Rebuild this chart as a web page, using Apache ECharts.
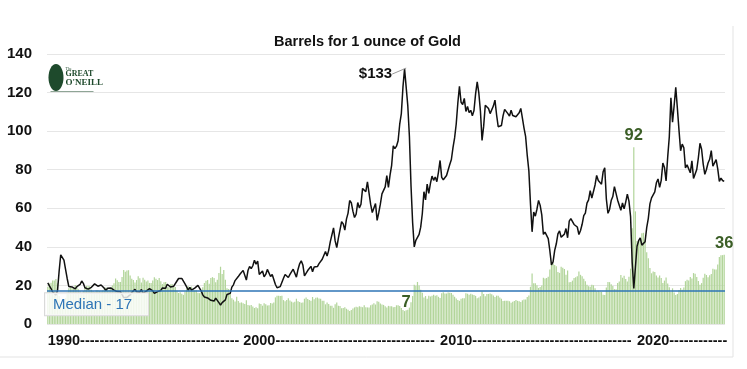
<!DOCTYPE html>
<html>
<head>
<meta charset="utf-8">
<script src="https://cdn.jsdelivr.net/npm/echarts@6/dist/echarts.min.js"></script>
<style>
html,body{margin:0;padding:0;background:#fff;}
#c{width:747px;height:369px;}
</style>
</head>
<body>
<div id="c"></div>
<script>
// Monthly categories Jan 1990 - Dec 2024
const startYear = 1990, endYear = 2024;
const months = [];
for (let y = startYear; y <= endYear; y++) {
  for (let m = 1; m <= 12; m++) months.push(y + '-' + (m < 10 ? '0' + m : m));
}

// Oil price, $/barrel (black line), one row per year
const oilPrice = [
  21.3,19.8,18.4,16.6,16.4,15.1,17.2,27.2,35.9,36.0,33.1,28.3,
  23.6,19.5,19.1,19.2,19.2,18.2,19.4,19.8,20.5,22.3,21.1,18.8,
  18.0,18.1,17.6,19.0,19.7,20.8,20.1,19.6,20.2,20.2,19.2,18.5,
  17.4,18.5,18.7,18.7,18.5,17.6,16.6,16.8,16.3,16.7,15.3,13.7,
  14.3,13.8,13.8,15.1,16.3,16.9,18.0,16.7,15.9,16.5,17.9,15.8,
  16.6,17.1,16.9,18.3,18.1,17.2,15.9,16.4,16.8,16.1,17.4,18.7,
  18.5,18.6,20.6,20.7,19.2,18.5,19.6,20.2,22.3,23.6,22.9,23.6,
  23.6,20.8,19.2,17.6,19.0,17.6,18.5,18.6,18.5,20.0,19.2,17.2,
  15.1,14.0,13.2,13.5,14.3,12.3,12.1,11.9,13.4,13.0,11.1,9.8,
  11.1,10.3,12.5,15.3,15.2,15.9,19.1,20.3,22.5,22.1,24.6,25.8,
  25.5,27.8,27.5,22.8,27.7,29.8,28.7,30.2,33.1,31.0,32.6,25.7,
  25.6,27.5,24.5,25.7,28.3,27.9,24.6,25.7,25.6,20.5,18.8,18.7,
  19.4,20.3,23.7,25.7,25.4,24.1,25.7,26.7,28.4,27.5,24.3,28.3,
  31.2,32.8,30.6,25.0,25.9,27.7,28.4,29.9,27.1,29.6,28.8,29.8,
  31.3,30.9,33.6,33.6,37.6,35.2,38.2,42.7,43.2,49.8,43.1,39.6,
  44.5,45.5,53.1,51.9,48.7,54.4,57.5,64.0,62.9,58.5,55.2,56.9,
  63.0,60.2,62.1,70.3,69.8,68.6,73.7,73.2,62.0,57.8,58.8,62.5,
  53.7,57.6,62.1,67.5,67.2,71.1,76.9,70.8,77.2,82.3,92.4,90.9,
  92.2,95.0,103.6,109.1,122.8,132.3,132.7,113.2,97.2,71.6,52.5,40.0,
  43.4,43.3,46.5,50.2,57.3,68.6,64.4,72.5,67.7,72.8,76.7,74.5,
  76.2,73.8,78.8,84.8,76.0,74.8,75.6,77.0,77.8,82.7,85.3,91.5,
  96.5,103.7,114.6,123.3,115.0,113.8,117.0,110.2,112.8,109.6,110.8,107.9,
  110.7,119.3,125.5,119.8,110.3,95.2,102.6,113.4,112.9,111.7,109.1,109.5,
  113.0,116.1,108.5,102.3,102.6,102.9,107.9,111.3,111.6,109.1,107.8,110.8,
  108.1,108.9,107.5,107.8,109.5,111.8,106.8,101.6,97.1,87.4,79.4,62.3,
  47.8,58.1,55.9,59.5,64.1,61.5,56.6,46.5,47.6,48.4,44.3,38.0,
  30.7,32.2,38.2,41.6,46.7,48.3,45.0,45.8,46.6,49.5,44.7,53.3,
  54.6,54.9,51.6,52.3,50.3,46.4,48.5,51.7,56.2,57.5,62.7,64.4,
  69.1,65.3,66.0,72.1,77.0,74.4,74.3,72.5,78.9,81.0,64.8,57.4,
  59.4,64.0,66.1,71.2,71.3,64.2,63.9,59.0,62.8,59.7,63.2,67.3,
  63.7,55.7,32.0,18.4,29.4,40.3,43.2,44.7,40.9,40.2,42.7,50.0,
  54.8,62.3,65.4,64.8,68.5,73.2,75.2,70.8,74.5,83.5,81.1,74.2,
  86.5,97.1,117.3,104.6,113.3,122.7,111.9,100.5,89.8,93.3,91.4,80.9,
  82.5,82.6,78.4,84.6,75.5,74.8,80.1,86.2,93.7,90.6,82.9,77.6,
  80.1,83.5,85.4,89.9,81.8,82.3,85.2,80.4,74.0,75.6,74.4,73.9
];

// Barrels of oil for 1 ounce of gold (green bars)
const barrelsPerOunce = [
  19.3,21.0,21.4,22.5,22.6,23.3,21.1,14.5,10.8,10.6,11.5,13.4,
  16.3,18.6,19.0,18.7,18.6,20.2,19.0,18.0,17.1,16.1,17.1,19.3,
  19.7,19.6,19.6,17.8,17.1,16.4,17.5,17.5,17.1,17.0,17.4,18.1,
  18.9,17.8,17.7,18.3,19.9,21.1,23.6,22.7,21.8,21.8,24.4,28.0,
  27.1,27.7,27.9,25.1,23.5,22.8,21.5,22.8,24.7,23.7,21.5,24.0,
  22.9,22.1,22.6,21.3,21.3,22.6,24.3,23.4,22.8,23.8,22.2,20.7,
  21.6,21.8,19.2,19.0,20.5,20.8,19.6,19.2,17.2,16.1,16.5,15.7,
  15.1,16.7,18.4,19.6,18.1,19.4,17.6,17.4,17.5,16.2,16.0,16.8,
  19.1,21.3,22.4,22.8,20.9,23.8,24.3,23.9,21.6,22.9,26.5,29.7,
  25.9,28.0,22.9,18.5,18.1,16.5,13.4,12.6,11.7,14.1,11.9,11.0,
  11.2,10.8,10.4,12.3,9.9,9.6,9.8,9.1,8.3,8.7,8.2,10.6,
  10.4,9.5,10.7,10.2,9.6,9.7,10.9,10.6,11.1,13.8,14.7,14.7,
  14.5,14.6,12.4,11.8,12.4,13.3,12.2,11.6,11.2,11.5,13.1,11.8,
  11.4,11.0,11.1,13.1,13.8,12.9,12.4,12.0,14.0,12.8,13.6,13.7,
  13.2,13.1,12.1,12.0,10.2,11.2,10.4,9.4,9.4,8.4,10.2,11.2,
  9.5,9.3,8.2,8.3,8.7,7.9,7.4,6.8,7.3,8.0,8.6,9.0,
  8.7,9.2,9.0,8.7,9.7,8.7,8.6,8.6,9.7,10.1,10.7,10.1,
  11.8,11.5,10.6,10.1,9.9,9.2,8.6,9.4,9.2,9.2,8.7,8.8,
  9.7,9.7,9.3,8.3,7.2,6.7,7.1,7.4,8.5,11.3,14.5,20.4,
  19.8,21.8,19.9,17.7,16.2,13.8,14.5,13.1,14.7,14.3,14.7,15.2,
  14.7,14.9,14.1,13.5,15.9,16.5,15.8,15.8,16.3,16.2,16.1,15.2,
  14.1,13.2,12.4,12.0,13.1,13.4,13.4,15.9,15.7,15.2,15.7,15.3,
  15.0,14.6,13.3,13.8,14.4,16.8,15.5,14.4,15.5,15.6,15.8,15.4,
  14.8,14.0,14.7,14.6,13.8,13.1,11.9,12.1,12.1,12.1,11.8,11.0,
  11.5,11.9,12.4,12.0,11.8,11.4,12.3,12.7,12.7,14.0,14.8,19.3,
  26.2,21.1,21.1,20.1,18.7,19.2,19.9,24.0,23.6,23.9,24.5,28.3,
  32.0,31.5,30.6,29.9,27.0,26.5,29.7,29.2,28.5,25.6,27.7,21.7,
  21.8,22.5,23.9,24.2,24.8,27.2,25.5,24.8,23.4,22.2,20.4,19.6,
  19.3,20.4,20.1,18.5,16.9,17.2,16.7,16.6,15.2,15.0,18.9,21.8,
  21.7,20.6,19.7,18.1,18.0,21.2,22.1,25.4,24.0,25.0,23.3,22.0,
  24.5,28.7,49.7,91.6,58.4,43.0,42.7,44.0,47.0,47.3,43.7,37.2,
  34.1,29.0,26.3,27.2,27.0,25.1,24.1,25.2,23.8,21.3,22.5,24.1,
  21.0,19.1,16.6,18.5,16.3,15.0,15.5,17.6,18.7,17.8,18.9,22.2,
  23.0,22.5,24.4,23.6,26.4,26.0,24.4,22.3,20.4,21.2,24.0,26.1,
  25.4,24.2,25.3,25.9,28.7,28.3,28.2,30.8,34.7,35.6,35.7,35.9
];

const medianValue = 17;
const tickLabels = [
  '1990---------------------------------',
  '2000---------------------------------',
  '2010---------------------------------',
  '2020------------'
];
const tickIndex = [0, 121, 243, 365];
// annotated points
const oilPeakIndex = 222, oilPeakText = '$133';
const barNotes = [[222, '7'], [363, '92'], [419, '36']];

const chart = echarts.init(document.getElementById('c'));
const FONT = 'Liberation Sans';

const barData = barrelsPerOunce.map((v, i) => {
  const n = barNotes.find(b => b[0] === i);
  if (!n) return v;
  return {value: v, label: {show: true, position: 'top', distance: n[1] === '7' ? -1 : 3, formatter: n[1],
    color: '#3b5e26', fontWeight: 'bold', fontSize: 16.5, fontFamily: FONT}};
});
const lineData = oilPrice.map((v, i) => i === oilPeakIndex ? {
  value: v, label: {show: true, position: 'left', distance: 4, formatter: oilPeakText,
    color: '#111', fontWeight: 'bold', fontSize: 15, fontFamily: FONT}
} : v);

chart.setOption({
  animation: false,
  backgroundColor: '#fff',
  title: {
    text: 'Barrels for 1 ounce of Gold',
    left: 269, top: 29,
    textStyle: {fontFamily: FONT, fontWeight: 'bold', fontSize: 14.5, color: '#111'}
  },
  grid: {left: 47, right: 22, top: 54, bottom: 45},
  xAxis: {
    type: 'category',
    data: months,
    boundaryGap: true,
    axisLine: {show: false},
    axisTick: {show: false},
    axisLabel: {
      interval: (idx) => tickIndex.indexOf(idx) >= 0,
      formatter: (val, idx) => tickLabels[tickIndex.indexOf(idx)],
      align: 'left',
      margin: 9,
      showMinLabel: true,
      hideOverlap: false,
      color: '#111', fontWeight: 'bold', fontSize: 14.5, fontFamily: FONT
    },
    splitLine: {show: false}
  },
  yAxis: {
    type: 'value', min: 0, max: 140, interval: 20,
    axisLine: {show: false}, axisTick: {show: false},
    axisLabel: {margin: 15, color: '#111', fontWeight: 'bold', fontSize: 15, fontFamily: FONT},
    splitLine: {lineStyle: {color: '#e6e6e6', width: 1}}
  },
  series: [
    {
      name: 'Barrels per ounce', type: 'bar', data: barData,
      barCategoryGap: '25%',
      itemStyle: {color: '#b2d59a'},
      z: 1
    },
    {
      name: 'Oil price', type: 'line', data: lineData,
      showSymbol: true, symbol: 'circle', symbolSize: 0.01,
      itemStyle: {color: '#111'},
      lineStyle: {color: '#111', width: 1.5},
      labelLine: {show: true, lineStyle: {color: '#9a9a9a', width: 1}},
      labelLayout: (p) => p.dataIndex === oilPeakIndex ? {dx: -10, dy: 6} : {},
      z: 3
    },
    {
      name: 'Median', type: 'line', data: [], z: 5,
      markLine: {
        silent: true, symbol: 'none',
        lineStyle: {color: '#2e75b6', width: 1.5, type: 'solid'},
        label: {
          show: true, position: 'insideStartBottom', formatter: 'Median - ' + medianValue,
          distance: [-2, 2],
          color: '#2e75b6', fontSize: 15, fontFamily: FONT,
          backgroundColor: 'rgba(255,255,255,0.8)', borderColor: '#d9d9d9', borderWidth: 1,
          padding: [4, 16, 3, 8]
        },
        data: [{yAxis: medianValue}]
      }
    }
  ],
  graphic: [
    {type: 'line', shape: {x1: 733, y1: 26, x2: 733, y2: 357}, style: {stroke: '#e3e3e3', lineWidth: 1}},
    {type: 'line', shape: {x1: 0, y1: 357, x2: 733, y2: 357}, style: {stroke: '#e3e3e3', lineWidth: 1}},
    {type: 'group', left: 48, top: 64, children: [
      {type: 'ellipse', shape: {cx: 7.5, cy: 13.5, rx: 7.5, ry: 13.5}, style: {fill: '#1e4a2c'}},
      {type: 'text', x: 17, y: 3, style: {text: 'The', fill: '#1e4a2c', font: '4px Liberation Serif'}},
      {type: 'text', x: 17, y: 6, style: {text: 'GREAT', fill: '#1e4a2c', font: 'bold 8px Liberation Serif'}},
      {type: 'text', x: 17, y: 14, style: {text: "O'NEILL", fill: '#1e4a2c', font: 'bold 9px Liberation Serif'}},
      {type: 'line', shape: {x1: 2, y1: 28, x2: 45, y2: 28}, style: {stroke: '#1e4a2c', lineWidth: 1}}
    ]}
  ]
});
</script>
</body>
</html>
